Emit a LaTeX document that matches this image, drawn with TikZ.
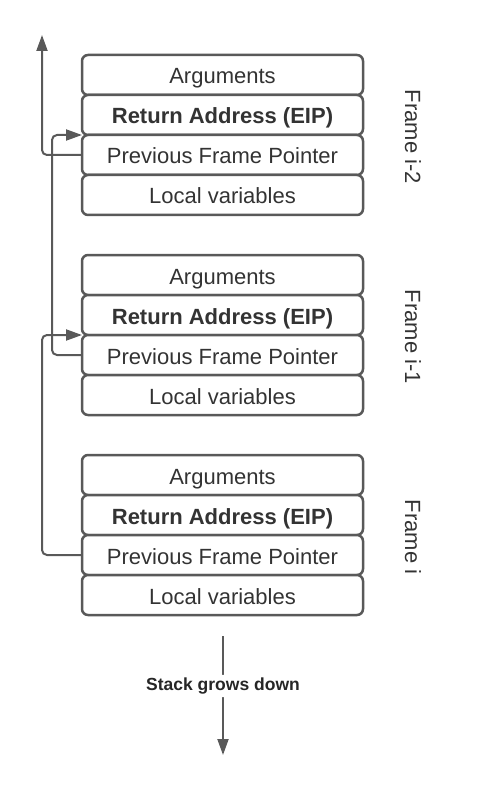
\documentclass[tikz,border=0pt]{standalone}
\usepackage{fontspec}
\setmainfont{Liberation Sans}
\usepackage{tikz}
\usetikzlibrary{arrows.meta,positioning,calc}
\newlength{\gu}
\setlength{\gu}{1pt}
\definecolor{edgegray}{HTML}{595959}
\definecolor{inkgray}{HTML}{333333}
\tikzset{
    cell/.style = {draw=edgegray, line width=2.5\gu, rounded corners=6\gu,
                   fill=white, minimum width=281\gu, minimum height=40\gu,
                   inner sep=0pt, outer sep=0pt, text=inkgray,
                   text height=18\gu, text depth=0pt,
                   font=\fontsize{22}{26}\selectfont},
    boldcell/.style = {cell, font=\fontsize{22}{26}\selectfont\bfseries},
    framelabel/.style = {rotate=-90, inner sep=0pt, text=inkgray,
                   font=\fontsize{22}{26}\selectfont},
    link/.style = {draw=edgegray, line width=2\gu, rounded corners=5\gu},
}

\begin{document}
\begin{tikzpicture}
    [   > = {Triangle[length=16pt,width=11pt]}
    ]
    \useasboundingbox (0\gu,0\gu) rectangle (481\gu,-794\gu);
    % Frame i-2
    \node[cell] (args2) at (222.5\gu,-75\gu) {Arguments};
    \node[boldcell,below=0pt of args2] (ret2) {Return Address (EIP)};
    \node[cell,below=0pt of ret2] (pfp2) {Previous Frame Pointer};
    \node[cell,below=0pt of pfp2] (loc2) {Local variables};
    \node[framelabel] (lab2) at (413\gu,-137\gu) {Frame i-2};
    % Frame i-1
    \node[cell] (args1) at (222.5\gu,-275\gu) {Arguments};
    \node[boldcell,below=0pt of args1] (ret1) {Return Address (EIP)};
    \node[cell,below=0pt of ret1] (pfp1) {Previous Frame Pointer};
    \node[cell,below=0pt of pfp1] (loc1) {Local variables};
    \node[framelabel] (lab1) at (413\gu,-337\gu) {Frame i-1};
    % Frame i
    \node[cell] (args0) at (222.5\gu,-475\gu) {Arguments};
    \node[boldcell,below=0pt of args0] (ret0) {Return Address (EIP)};
    \node[cell,below=0pt of ret0] (pfp0) {Previous Frame Pointer};
    \node[cell,below=0pt of pfp0] (loc0) {Local variables};
    \node[framelabel] (lab0) at (413\gu,-537\gu) {Frame i};
    % Frame pointer chain
    \coordinate (chaintop) at (42\gu,-35\gu);
    \draw[link,->] (pfp2.west) -| (chaintop);
    \draw[link,->] (pfp1.west) -- ++(-30\gu,0\gu) |- (pfp2.north west);
    \draw[link,->] (pfp0.west) -- ++(-40\gu,0\gu) |- (pfp1.north west);
    % Stack direction
    \coordinate (growtop) at (223\gu,-636\gu);
    \coordinate (growtip) at (223\gu,-755\gu);
    \draw[link,->] (growtop) -- node[pos=0.42,fill=white,inner sep=3\gu,
        text=black!85,font=\fontsize{17.5}{20}\selectfont\bfseries] (growlabel)
        {Stack grows down} (growtip);
\end{tikzpicture}
\end{document}
